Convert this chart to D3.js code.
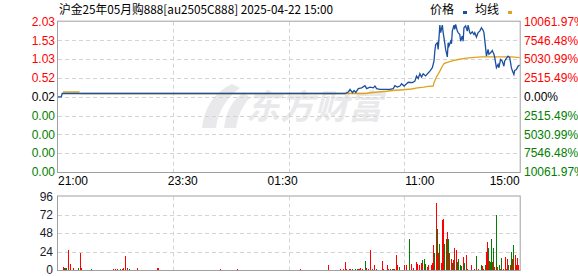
<!DOCTYPE html>
<html>
<head>
<meta charset="utf-8">
<script src="https://cdn.jsdelivr.net/npm/d3@7"></script>
<style>
  html, body { margin: 0; padding: 0; background: #fff; }
  svg text { font-family: Arial, "Liberation Sans", "Noto Sans CJK SC", sans-serif; }
</style>
</head>
<body>
<div id="chart"></div>
<script>
// 标题和图例
var titleText = "沪金25年05月购888[au2505C888] 2025-04-22 15:00";
var legendNames = ["价格", "均线"];

// 坐标轴刻度
var timeLabels = ["21:00", "23:30", "01:30", "11:00", "15:00"];
var timeLabelMinutes = [0, 150, 270, 435, 555];
var priceTicks = ["2.03", "1.53", "1.03", "0.52", "0.02", "0.00", "0.00", "0.00", "0.00"];
var pctTicks = ["10061.97%", "7546.48%", "5030.99%", "2515.49%", "0.00%", "2515.49%", "5030.99%", "7546.48%", "10061.97%"];
var volTicks = [0, 24, 48, 72, 96];

// 昨结算与涨跌幅范围
var preClose = 0.02;
var maxPct = 100.6197;
var totalMinutes = 555;

// 价格线 [分钟, 价格]
var priceLine = [
  [0,0.02],[4,0.02],[5,0.11],[345,0.11],[349,0.15],[351,0.22],[354,0.13],[356,0.19],[358,0.14],
  [361,0.24],[365,0.26],[369,0.32],[371,0.24],[375,0.28],[379,0.26],[381,0.31],[383,0.24],[387,0.22],
  [399,0.22],[403,0.24],[405,0.32],[408,0.28],[411,0.31],[413,0.37],[416,0.31],[419,0.37],[421,0.41],
  [426,0.40],[429,0.44],[431,0.58],[433,0.51],[435,0.64],[437,0.55],[439,0.64],[442,0.58],[445,0.66],
  [447,0.71],[450,0.80],[452,0.98],[453,1.25],[454,1.42],[456,1.47],[457,1.29],[458,1.60],[459,1.94],
  [460,1.74],[462,1.94],[463,1.74],[464,1.60],[466,1.29],[468,1.09],[469,1.47],[470,1.38],[472,1.51],
  [473,1.44],[474,1.78],[476,1.94],[477,1.83],[478,1.96],[480,1.78],[481,1.74],[483,1.69],[484,1.51],
  [486,1.65],[487,1.51],[488,1.87],[490,1.92],[492,1.78],[493,1.94],[495,1.74],[496,1.71],[498,1.76],
  [500,1.69],[501,1.74],[503,1.62],[505,1.74],[507,1.78],[509,1.87],[511,1.80],[512,1.74],[514,1.34],
  [515,1.11],[517,1.29],[518,1.16],[520,1.20],[522,1.26],[524,1.16],[525,1.07],[527,0.80],[529,0.89],
  [530,0.80],[532,1.02],[534,0.98],[536,0.84],[537,0.98],[539,1.05],[541,1.11],[543,1.07],[545,0.80],
  [546,0.73],[548,0.62],[549,0.73],[551,0.75],[553,0.84],[555,0.87]
];

// 均线 [分钟, 价格]，null 为断开
var avgLine = [
  [6,0.15],[26,0.15],[26.5,null],
  [27,0.11],[345,0.11],[370,0.11],[375,0.13],[385,0.15],[395,0.17],[402,0.19],[415,0.21],[425,0.23],
  [432,0.26],[440,0.28],[445,0.30],[451,0.31],[452,0.40],[455,0.55],[459,0.71],[462,0.84],[464,0.91],
  [469,0.95],[475,0.99],[481,1.02],[489,1.05],[497,1.07],[509,1.09],[521,1.09],[533,1.09],[545,1.09],
  [555,1.07]
];

// 成交量 [分钟, 手数, 涨跌(1红 -1绿)]
var volumeBars = [
  [6,4,1],[7,2,-1],[8,2,1],[10,2,-1],[12,26,1],[14,8,1],[18,2,1],[24,3,-1],[27,22,1],[28,2,1],
  [40,1,-1],[66,1,1],[69,1,1],[71,1,1],[75,1,-1],[77,1,1],[78,2,1],[80,18,1],[83,2,1],[85,1,-1],
  [95,2,1],[119,2,1],[120,2,1],[195,1,1],[215,1,1],
  [291,1,1],[325,6,1],[339,1,1],[342,1,1],[343,1,1],[345,10,1],[346,1,1],[350,1,1],[351,1,1],
  [354,1,-1],[357,1,-1],[359,1,-1],[361,1,1],[362,1,1],[363,3,1],[365,1,1],[369,12,-1],[370,2,1],
  [373,1,1],[375,26,1],[377,1,-1],[378,1,1],[380,6,1],[382,1,-1],[389,12,1],[391,1,1],[396,7,1],
  [397,1,1],[399,1,-1],[401,1,1],[403,1,-1],[404,1,1],
  [406,20,1],[408,6,1],[410,4,-1],[416,7,1],[418,7,1],[422,41,-1],[424,8,1],[427,2,1],[430,11,1],
  [432,8,1],[434,6,1],[436,9,1],[437,13,-1],[438,8,1],[440,14,-1],[441,8,-1],[443,4,1],[445,6,1],
  [448,7,1],[450,9,1],[451,33,1],[452,22,-1],[454,88,1],[455,54,-1],[456,19,1],[457,22,1],[458,34,-1],
  [460,9,1],[461,17,-1],[462,65,1],[463,67,1],[464,34,-1],[466,28,1],[467,41,-1],[468,49,1],[469,41,-1],
  [470,22,1],[472,15,-1],[473,13,1],[474,9,-1],[475,13,1],[476,29,1],[478,26,1],[479,8,1],[480,11,-1],
  [481,15,-1],[483,6,-1],[484,5,-1],[487,17,1],[488,9,-1],[490,20,1],[491,9,1],[492,1,-1],[496,6,1],
  [497,5,1],[500,1,1],[502,18,-1],[503,1,1],[505,1,1],[508,6,-1],[510,5,1],[511,1,1],[513,6,-1],
  [514,22,1],[515,23,1],[516,37,1],[517,29,-1],[518,12,1],[519,10,-1],[520,11,1],[521,40,-1],[522,11,1],
  [523,29,-1],[524,4,1],[526,22,-1],[527,72,-1],[528,4,1],[530,6,-1],[531,1,1],[533,16,-1],[535,1,1],
  [537,17,1],[538,1,1],[540,14,1],[541,6,-1],[543,6,1],[544,9,1],[545,24,-1],[546,15,1],[547,33,-1],
  [549,20,1],[550,6,1],[551,6,1],[552,16,1],[553,6,1]
];

var width = 578, height = 276;
var left = 58, right = 519.7;
var mainTop = 21.7, mainBottom = 172;
var volTop = 196.5, volBottom = 270;

var red = "#ff0000", green = "#008000", black = "#000000";
var priceColor = "#1c4fa0", avgColor = "#e0a31e";
var borderColor = "#a0a0a0", gridColor = "#d4d4d4";

var svg = d3.select("#chart")
  .append("svg")
  .attr("width", width)
  .attr("height", height);

var x = d3.scaleLinear().domain([0, totalMinutes]).range([left, right]);
var priceSpan = preClose * maxPct;
var yPrice = d3.scaleLinear()
  .domain([preClose - priceSpan, preClose + priceSpan])
  .range([mainBottom, mainTop]);
var yVol = d3.scaleLinear().domain([0, 96]).range([volBottom, volTop]);

// 水印
var wm = svg.append("g").attr("fill", "#e9e9eb");
wm.append("text")
  .attr("x", 246).attr("y", 119)
  .attr("font-size", 34).attr("font-weight", "bold")
  .attr("font-style", "italic")
  .style("font-family", "'Noto Sans CJK SC', sans-serif")
  .text("东方财富");
wm.append("path")
  .attr("d", "M232,84 C214,92 204,108 202,128 L216,128 C218,112 226,98 240,88 Z M244,92 C232,100 226,112 224,128 L236,128 C238,116 242,106 250,98 Z");

// 网格
var hGrid = d3.range(1, priceTicks.length - 1);
svg.append("g").selectAll("line")
  .data(hGrid).enter().append("line")
  .attr("x1", left).attr("x2", right)
  .attr("y1", function(i) { return Math.round(mainTop + (mainBottom - mainTop) * i / 8) + 0.5; })
  .attr("y2", function(i) { return Math.round(mainTop + (mainBottom - mainTop) * i / 8) + 0.5; })
  .attr("stroke", gridColor).attr("stroke-dasharray", "4,3");

var vGrid = [1, 2, 3];
[[mainTop, mainBottom], [volTop, volBottom]].forEach(function(r) {
  svg.append("g").selectAll("line")
    .data(vGrid).enter().append("line")
    .attr("x1", function(k) { return Math.round(x(totalMinutes * k / 4)) + 0.5; })
    .attr("x2", function(k) { return Math.round(x(totalMinutes * k / 4)) + 0.5; })
    .attr("y1", r[0]).attr("y2", r[1])
    .attr("stroke", gridColor).attr("stroke-dasharray", "4,3");
});

svg.append("g").selectAll("line")
  .data(volTicks.slice(1, 4)).enter().append("line")
  .attr("x1", left).attr("x2", right)
  .attr("y1", function(d) { return Math.round(yVol(d)) + 0.5; })
  .attr("y2", function(d) { return Math.round(yVol(d)) + 0.5; })
  .attr("stroke", gridColor).attr("stroke-dasharray", "4,3");

// 均线和价格线
var avgPath = d3.line()
  .defined(function(d) { return d[1] !== null; })
  .x(function(d) { return x(d[0]); })
  .y(function(d) { return yPrice(d[1]); });
svg.append("path")
  .attr("d", avgPath(avgLine))
  .attr("fill", "none").attr("stroke", avgColor).attr("stroke-width", 1.3);

var pricePath = d3.line()
  .x(function(d) { return x(d[0]); })
  .y(function(d) { return yPrice(d[1]); });
svg.append("path")
  .attr("d", pricePath(priceLine))
  .attr("fill", "none").attr("stroke", priceColor).attr("stroke-width", 1.3);

// 成交量
svg.append("g").selectAll("rect")
  .data(volumeBars).enter().append("rect")
  .attr("x", function(d) { return Math.round(x(d[0])); })
  .attr("width", 1)
  .attr("y", function(d) { return yVol(d[1]); })
  .attr("height", function(d) { return volBottom - yVol(d[1]); })
  .attr("fill", function(d) { return d[2] > 0 ? red : green; })
  .attr("shape-rendering", "crispEdges");

// 边框
svg.append("rect")
  .attr("x", left - 0.5).attr("y", mainTop - 0.5)
  .attr("width", right - left + 1).attr("height", mainBottom - mainTop + 1)
  .attr("fill", "none").attr("stroke", borderColor);
svg.append("rect")
  .attr("x", left - 0.5).attr("y", volTop - 0.5)
  .attr("width", right - left + 1).attr("height", volBottom - volTop + 1)
  .attr("fill", "none").attr("stroke", borderColor);

// 左侧价格刻度
function tickColor(i) { return i < 4 ? red : (i === 4 ? black : green); }
svg.append("g").selectAll("text")
  .data(priceTicks).enter().append("text")
  .attr("x", 55)
  .attr("y", function(d, i) { return mainTop + (mainBottom - mainTop) * i / 8; })
  .attr("dy", "0.35em")
  .attr("text-anchor", "end")
  .attr("font-size", 12)
  .attr("fill", function(d, i) { return tickColor(i); })
  .text(function(d) { return d; });

// 右侧涨跌幅刻度
svg.append("g").selectAll("text")
  .data(pctTicks).enter().append("text")
  .attr("x", 524)
  .attr("y", function(d, i) { return mainTop + (mainBottom - mainTop) * i / 8; })
  .attr("dy", "0.35em")
  .attr("font-size", 12)
  .attr("fill", function(d, i) { return tickColor(i); })
  .text(function(d) { return d; });

// 时间刻度
svg.append("g").selectAll("text")
  .data(timeLabels).enter().append("text")
  .attr("x", function(d, i) { return x(timeLabelMinutes[i]); })
  .attr("y", 185)
  .attr("text-anchor", function(d, i) { return i === 0 ? "start" : (i === timeLabels.length - 1 ? "end" : "middle"); })
  .attr("font-size", 12)
  .attr("fill", black)
  .text(function(d) { return d; });

// 成交量刻度
svg.append("g").selectAll("text")
  .data(volTicks).enter().append("text")
  .attr("x", 53)
  .attr("y", function(d) { return yVol(d); })
  .attr("dy", "0.35em")
  .attr("text-anchor", "end")
  .attr("font-size", 12)
  .attr("fill", "#1a1a2e")
  .text(function(d) { return d; });

// 标题
svg.append("text")
  .attr("x", 59).attr("y", 14)
  .attr("font-size", 12)
  .attr("textLength", 274).attr("lengthAdjust", "spacingAndGlyphs")
  .style("font-family", "'Noto Sans CJK SC', sans-serif")
  .text(titleText);

// 图例
svg.append("text").attr("x", 430).attr("y", 14).attr("font-size", 12)
  .style("font-family", "'Noto Sans CJK SC', sans-serif").text(legendNames[0]);
svg.append("rect").attr("x", 463).attr("y", 11).attr("width", 4).attr("height", 3).attr("fill", priceColor);
svg.append("text").attr("x", 475).attr("y", 14).attr("font-size", 12)
  .style("font-family", "'Noto Sans CJK SC', sans-serif").text(legendNames[1]);
svg.append("rect").attr("x", 508).attr("y", 11).attr("width", 4).attr("height", 3).attr("fill", avgColor);
</script>
</body>
</html>
